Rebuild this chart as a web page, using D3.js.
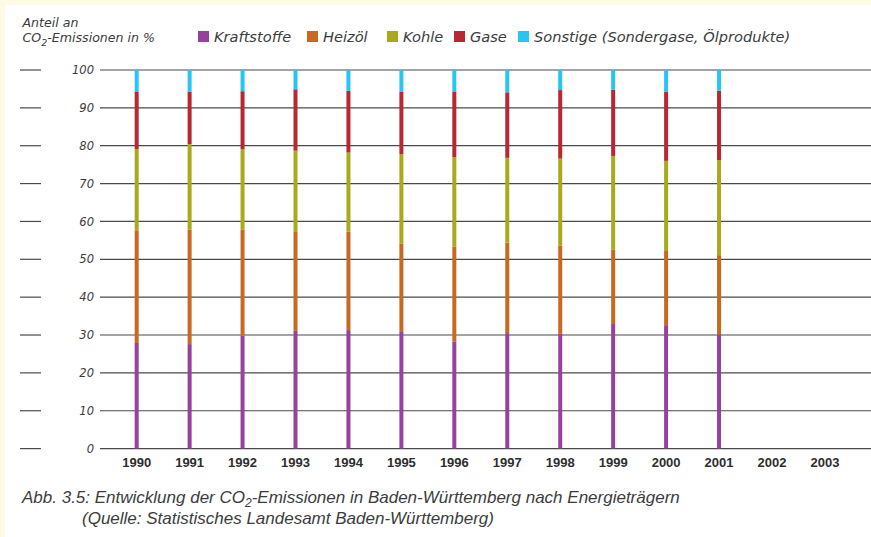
<!DOCTYPE html>
<html>
<head>
<meta charset="utf-8">
<script src="https://cdn.jsdelivr.net/npm/d3@7"></script>
<style>
  html, body { margin: 0; padding: 0; background: #fdfae6; }
  svg { display: block; }
</style>
</head>
<body>
<svg id="chart" width="871" height="537"></svg>
<script>
// ---- data ----
const years = ["1990","1991","1992","1993","1994","1995","1996","1997","1998","1999","2000","2001","2002","2003"];
const seriesNames = ["Kraftstoffe","Heizöl","Kohle","Gase","Sonstige (Sondergase, Ölprodukte)"];
const kraftstoffe = [27.9, 27.6, 29.8, 31.1, 31.3, 31.0, 28.3, 30.5, 30.3, 32.9, 32.6, 30.2];
const heizoel     = [29.6, 30.2, 28.0, 26.3, 26.0, 23.2, 25.0, 23.9, 23.3, 19.6, 19.6, 20.9];
const kohle       = [21.6, 22.6, 21.3, 21.3, 20.9, 23.6, 23.7, 22.4, 23.0, 24.8, 23.8, 25.1];
const gase        = [15.1, 13.9, 15.3, 16.2, 16.3, 16.4, 17.2, 17.3, 18.1, 17.5, 18.3, 18.3];
const sonstige    = [5.8, 5.7, 5.6, 5.1, 5.5, 5.8, 5.8, 5.9, 5.3, 5.2, 5.7, 5.5];
const yTicks = [0, 10, 20, 30, 40, 50, 60, 70, 80, 90, 100];
const colors = ["#95419d", "#c9681f", "#a9a91c", "#b72833", "#26c5f2"];

const seriesValues = [kraftstoffe, heizoel, kohle, gase, sonstige];
const table = kraftstoffe.map((_, i) => {
  const row = { year: years[i] };
  seriesNames.forEach((n, j) => row[n] = seriesValues[j][i]);
  return row;
});

const svg = d3.select("#chart");
const lightFont = "'DejaVu Sans', sans-serif";
const textColor = "#3c3c3c";

// white panel
svg.append("rect").attr("x", 5).attr("y", 5).attr("width", 866).attr("height", 532).attr("fill", "#ffffff");

const x = d3.scaleBand().domain(years).range([110.2, 851.4]).padding(0);
const y = d3.scaleLinear().domain([0, 100]).range([448.6, 70]);

// gridlines
const grid = svg.append("g");
grid.selectAll("line.grid").data(yTicks).join("line")
  .attr("x1", 100).attr("x2", 871)
  .attr("y1", d => y(d)).attr("y2", d => y(d))
  .attr("stroke", "#4a4a4a").attr("stroke-width", 1.2);
grid.selectAll("line.dash").data(yTicks).join("line")
  .attr("x1", 20).attr("x2", 41)
  .attr("y1", d => y(d)).attr("y2", d => y(d))
  .attr("stroke", "#4a4a4a").attr("stroke-width", 1.2);

// y axis labels
const yAxis = d3.axisLeft(y).tickValues(yTicks).tickSize(0).tickPadding(0);
const ya = svg.append("g").attr("transform", "translate(94,0)").call(yAxis);
ya.select(".domain").remove();
ya.selectAll("text")
  .attr("font-family", lightFont).attr("font-style", "oblique")
  .attr("font-size", 11.5).attr("fill", textColor);

// stacked bars
const stack = d3.stack().keys(seriesNames);
const stacked = stack(table);
const barW = 4;
svg.append("g").selectAll("g").data(stacked).join("g")
  .attr("fill", (d, i) => colors[i])
  .selectAll("rect").data(d => d).join("rect")
  .attr("x", d => x(d.data.year) + x.bandwidth() / 2 - barW / 2)
  .attr("width", barW)
  .attr("y", d => y(d[1]))
  .attr("height", d => y(d[0]) - y(d[1]));

// x axis labels
const xAxis = d3.axisBottom(x).tickSize(0).tickPadding(0);
const xa = svg.append("g").attr("transform", "translate(0,458)").call(xAxis);
xa.select(".domain").remove();
xa.selectAll("text")
  .attr("dy", "0.71em")
  .attr("font-family", "'Liberation Sans', Arial, sans-serif")
  .attr("font-weight", "bold").attr("font-size", 13).attr("fill", "#2e2e2e");

// axis title
svg.append("text").attr("x", 22.5).attr("y", 27)
  .attr("font-family", lightFont).attr("font-style", "oblique")
  .attr("font-size", 12.6).attr("fill", textColor).text("Anteil an");
const t2 = svg.append("text").attr("x", 22.5).attr("y", 42)
  .attr("font-family", lightFont).attr("font-style", "oblique")
  .attr("font-size", 12.6).attr("fill", textColor);
t2.append("tspan").text("CO");
t2.append("tspan").attr("dy", 4).attr("font-size", 9.5).text("2");
t2.append("tspan").attr("dy", -4).text("-Emissionen in %");

// legend
const legendX = [198, 307, 387, 454, 518];
const lg = svg.append("g").selectAll("g").data(seriesNames).join("g")
  .attr("transform", (d, i) => `translate(${legendX[i]},31)`);
lg.append("rect").attr("width", 11).attr("height", 11).attr("fill", (d, i) => colors[i]);
lg.append("text").attr("x", 16).attr("y", 10.8)
  .attr("font-family", lightFont).attr("font-style", "oblique")
  .attr("font-size", 14.6).attr("fill", textColor).text(d => d);

// caption
const capFont = "'Liberation Sans', Arial, sans-serif";
const c1 = svg.append("text").attr("x", 22).attr("y", 503)
  .attr("font-family", capFont).attr("font-style", "italic")
  .attr("font-size", 17).attr("fill", textColor);
c1.append("tspan").text("Abb. 3.5: Entwicklung der CO");
c1.append("tspan").attr("dy", 4).attr("font-size", 12).text("2");
c1.append("tspan").attr("dy", -4).text("-Emissionen in Baden-Württemberg nach Energieträgern");
svg.append("text").attr("x", 82).attr("y", 524)
  .attr("font-family", capFont).attr("font-style", "italic")
  .attr("font-size", 17).attr("fill", textColor)
  .text("(Quelle: Statistisches Landesamt Baden-Württemberg)");
</script>
</body>
</html>
